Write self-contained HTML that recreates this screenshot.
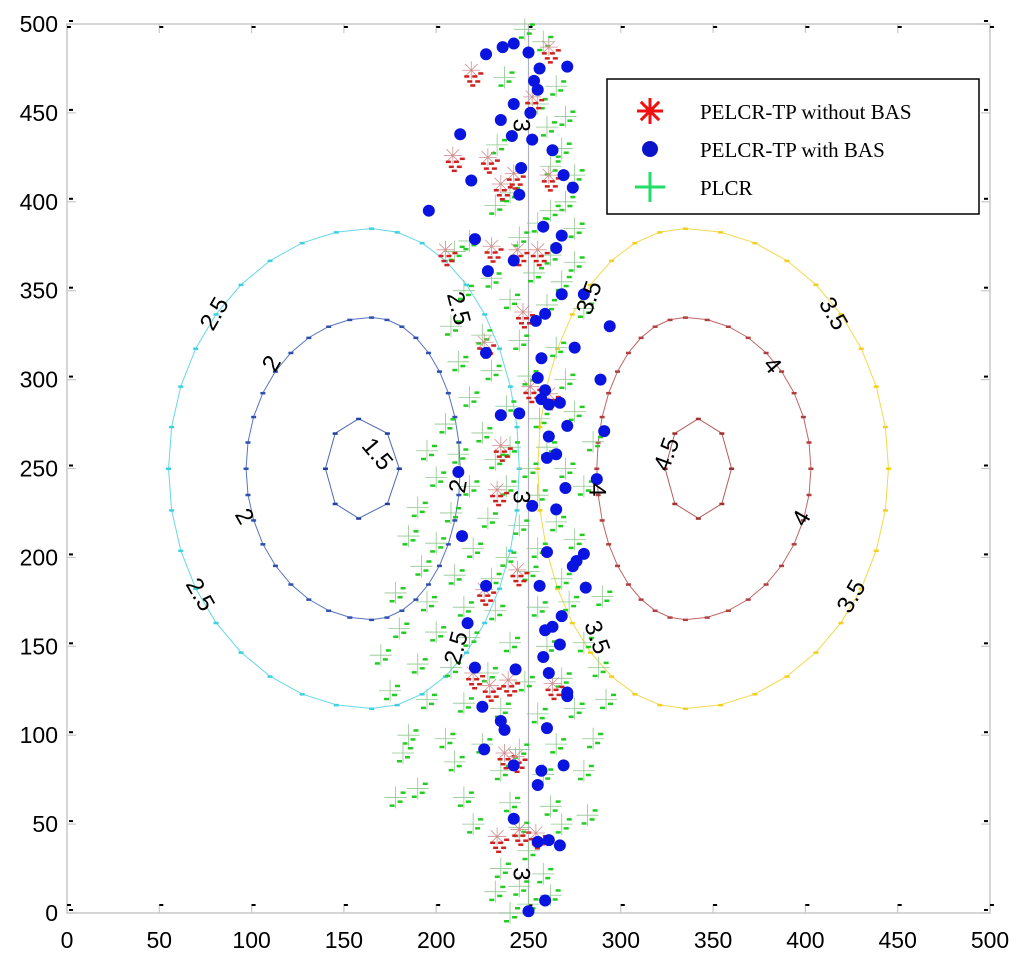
<!DOCTYPE html>
<html><head><meta charset="utf-8">
<style>
html,body{margin:0;padding:0;background:#fff;}
svg{display:block;font-family:"Liberation Sans",Arial,sans-serif;}
</style></head>
<body>
<svg id="chart" width="1024" height="961" viewBox="0 0 1024 961"></svg>
<script>
const xTicks=[0,50,100,150,200,250,300,350,400,450,500];
const yTicks=[0,50,100,150,200,250,300,350,400,450,500];
const blueX=[227,236,242,250,256,271,253,255,242,251,235,241,252,263,213,246,269,274,219,245,196,258,268,221,265,242,228,268,280,259,254,294,275,227,257,255,259,257,261,267,245,235,289,291,271,261,265,260,212,287,270,265,252,214,260,280,276,274,281,256,227,217,268,259,263,267,258,221,243,261,271,271,225,235,237,260,226,242,257,269,255,242,255,261,267,259,250];
const blueY=[483,487,489,484,475,476,468,463,455,450,446,437,435,429,438,419,415,408,412,404,395,386,381,379,374,367,361,348,348,337,333,330,318,315,312,301,294,289,286,287,281,280,300,271,274,268,258,256,248,244,239,227,229,212,203,202,198,195,183,184,184,163,167,159,161,151,144,138,137,135,124,122,116,108,103,104,92,83,80,83,72,53,40,41,38,7,1];
const redX=[219,261,252,209,228,242,235,261,205,230,244,255,247,226,251,261,235,233,244,226,220,229,239,263,237,243,245,233,254];
const redY=[474,487,459,426,425,416,410,415,373,375,373,373,338,321,296,292,263,238,193,182,135,128,131,129,90,88,47,43,45];
const greenX=[248,258,237,265,255,270,260,233,268,262,275,240,232,270,262,255,275,245,218,210,262,275,253,230,268,215,240,260,280,208,225,245,265,212,230,250,270,218,238,256,275,205,225,240,260,285,195,212,232,250,270,200,218,238,255,280,190,208,228,245,265,185,200,220,238,255,275,192,210,230,250,268,178,195,215,232,255,272,290,180,200,218,240,260,280,170,190,208,228,248,268,288,175,195,215,235,255,275,292,185,205,225,245,265,285,182,210,235,258,280,190,178,215,240,262,282,220,245,268,250,235,258,245,232,262,250,240];
const greenY=[497,490,470,465,455,448,442,432,430,420,415,405,398,400,395,388,385,380,378,372,370,366,360,357,355,350,345,342,340,330,325,322,318,310,305,302,300,290,285,278,282,275,270,262,262,265,260,258,255,250,250,245,240,240,235,240,228,225,222,218,220,212,208,205,200,205,210,195,190,188,192,188,180,175,172,170,172,175,178,160,158,155,152,150,152,145,140,138,135,130,132,138,125,120,118,115,112,115,120,100,98,95,92,95,98,90,85,80,78,80,70,65,65,62,60,55,50,48,50,35,25,22,15,12,10,5,0];
const contourLevels=[2.5,2,1.5,3.5,4,4.5];
const contourCX=[165,165,158,335,335,342];
const contourRL=[110,68,18,80,48,18];
const contourRR=[80,48,22,110,68,18];
const contourRY=[135,85,28,135,85,28];
const contourColors=["#3fd0e0","#3050b0","#2040a0","#f0d020","#b04040","#a03030"];
const labelText=["2.5","2","1.5","2","2.5","2.5","2","2.5","3","3","3","3.5","4","3.5","3.5","4","4.5","4","3.5"];
const labelX=[80,111,168,96,72,212,212,211,246,246,246,283,287,287,415,382,325,398,425];
const labelY=[337,309,258,223,179,340,240,149,443,234,22,346,238,155,337,308,258,222,178];
const labelRot=[-60,-60,50,60,60,75,-80,-75,90,90,90,-70,90,70,60,50,-70,-60,-60];

const X0=67,X1=990,Y0=913,Y1=24;
const sx=v=>X0+(v-0)*(X1-X0)/500;
const sy=v=>Y0-(v-0)*(Y0-Y1)/500;
const svg=document.getElementById('chart');
const NS='http://www.w3.org/2000/svg';
function mk(tag,attrs,parent){const e=document.createElementNS(NS,tag);for(const k in attrs)e.setAttribute(k,attrs[k]);(parent||svg).appendChild(e);return e;}

const frame=mk('g',{});


mk('rect',{x:X0,y:Y1,width:X1-X0,height:Y0-Y1,fill:'none',stroke:'#c8c8c8','stroke-width':1.5},frame);

const xAxis=mk('g',{});


xTicks.forEach(t=>{
  const x=sx(t);
  mk('line',{x1:x,y1:Y0,x2:x,y2:Y0-9,stroke:'#c8c8c8','stroke-width':1.2},xAxis);
  mk('line',{x1:x,y1:Y1,x2:x,y2:Y1+9,stroke:'#c8c8c8','stroke-width':1.2},xAxis);
  mk('rect',{x:x,y:Y0-9,width:4,height:2,fill:'#000'},xAxis);
  mk('rect',{x:x,y:Y1+2,width:4,height:2,fill:'#000'},xAxis);
  const tx=mk('text',{x:x,y:948,'font-size':23,'text-anchor':'middle',fill:'#000'},xAxis);
  tx.textContent=t;
  
  
});
const yAxis=mk('g',{});


yTicks.forEach(t=>{
  const y=sy(t);
  mk('line',{x1:X0,y1:y,x2:X0+9,y2:y,stroke:'#c8c8c8','stroke-width':1.2},yAxis);
  mk('line',{x1:X1,y1:y,x2:X1-9,y2:y,stroke:'#c8c8c8','stroke-width':1.2},yAxis);
  mk('rect',{x:X0+2,y:y-4,width:4,height:2,fill:'#000'},yAxis);
  mk('rect',{x:X1-6,y:y-4,width:4,height:2,fill:'#000'},yAxis);
  const tx=mk('text',{x:58,y:y+8,'font-size':23,'text-anchor':'end',fill:'#000'},yAxis);
  tx.textContent=t;
  
  
});

const cg=mk('g',{});


contourLevels.forEach((lv,i)=>{
  const n=lv===1.5||lv===4.5?8:36;
  const pts=[];
  for(let k=0;k<=n;k++){
    const a=k/n*2*Math.PI;
    const c=Math.cos(a);
    const r=c>=0?contourRR[i]:contourRL[i];
    pts.push([sx(contourCX[i]+r*c),sy(250+contourRY[i]*Math.sin(a))]);
  }
  const p=mk('polyline',{points:pts.map(q=>q.join(',')).join(' '),fill:'none',stroke:contourColors[i],'stroke-width':1,opacity:0.8},cg);
  
  
  pts.forEach(q=>mk('rect',{x:q[0]-2.5,y:q[1]-1,width:5,height:2.5,fill:contourColors[i]},cg));
});
const c3=mk('line',{x1:sx(250),y1:sy(0),x2:sx(250),y2:sy(500),stroke:'#b0b0c0','stroke-width':1.2},cg);



const gg=mk('g',{});


greenX.forEach((v,i)=>{
  const x=sx(v),y=sy(greenY[i]);
  mk('path',{d:`M${x-11},${y}H${x+11}M${x},${y-11}V${y+11}`,stroke:'#8ec88e','stroke-width':0.8,fill:'none'},gg);
  mk('rect',{x:x+2,y:y+3,width:5,height:2.5,fill:'#22cc22'},gg);
  mk('rect',{x:x-6,y:y+7,width:5,height:2.5,fill:'#22cc22'},gg);
  mk('rect',{x:x+5,y:y-6,width:5,height:2.5,fill:'#22cc22'},gg);
});

const rg=mk('g',{});


redX.forEach((v,i)=>{
  const x=sx(v),y=sy(redY[i]);
  let d='';
  for(let k=0;k<4;k++){const a=k*Math.PI/4;d+=`M${x-9*Math.cos(a)},${y-9*Math.sin(a)}L${x+9*Math.cos(a)},${y+9*Math.sin(a)}`;}
  mk('path',{d:d,stroke:'#d09090','stroke-width':0.8,fill:'none'},rg);
  [[-7,5],[1,5],[-4,10],[4,10],[-1,14],[7,2]].forEach(o=>mk('rect',{x:x+o[0],y:y+o[1],width:5,height:2.5,fill:'#d02020'},rg));
});

const bg=mk('g',{});


blueX.forEach((v,i)=>{
  mk('circle',{cx:sx(v),cy:sy(blueY[i]),r:6,fill:'#0a14e0'},bg);
});

const lg=mk('g',{});


labelText.forEach((t,i)=>{
  const x=sx(labelX[i]),y=sy(labelY[i]);
  const e=mk('text',{x:x,y:y,'font-size':24,'text-anchor':'middle','dominant-baseline':'central',transform:`rotate(${labelRot[i]} ${x} ${y})`,fill:'#000'},lg);
  e.textContent=t;
  
  
});

const leg=mk('g',{});


mk('rect',{x:607,y:79,width:372,height:135,fill:'#fff',stroke:'#000','stroke-width':1.5},leg);
const legItems=["PELCR-TP without BAS","PELCR-TP with BAS","PLCR"];
legItems.forEach((t,i)=>{
  const y=111+i*38;
  const it=mk('g',{},leg);
  
  
  if(i===0){let d='';for(let k=0;k<4;k++){const a=k*Math.PI/4;d+=`M${650-13*Math.cos(a)},${y-13*Math.sin(a)}L${650+13*Math.cos(a)},${y+13*Math.sin(a)}`;}mk('path',{d:d,stroke:'#f01010','stroke-width':3},it);}
  if(i===1)mk('circle',{cx:650,cy:y,r:8,fill:'#0a14c8'},it);
  if(i===2)mk('path',{d:`M635,${y}H665M650,${y-15}V${y+15}`,stroke:'#22dd66','stroke-width':3},it);
  const tx=mk('text',{x:700,y:y+8,'font-size':21,'font-family':'"Liberation Serif",serif',fill:'#000'},it);
  tx.textContent=t;
});
</script>
</body></html>
